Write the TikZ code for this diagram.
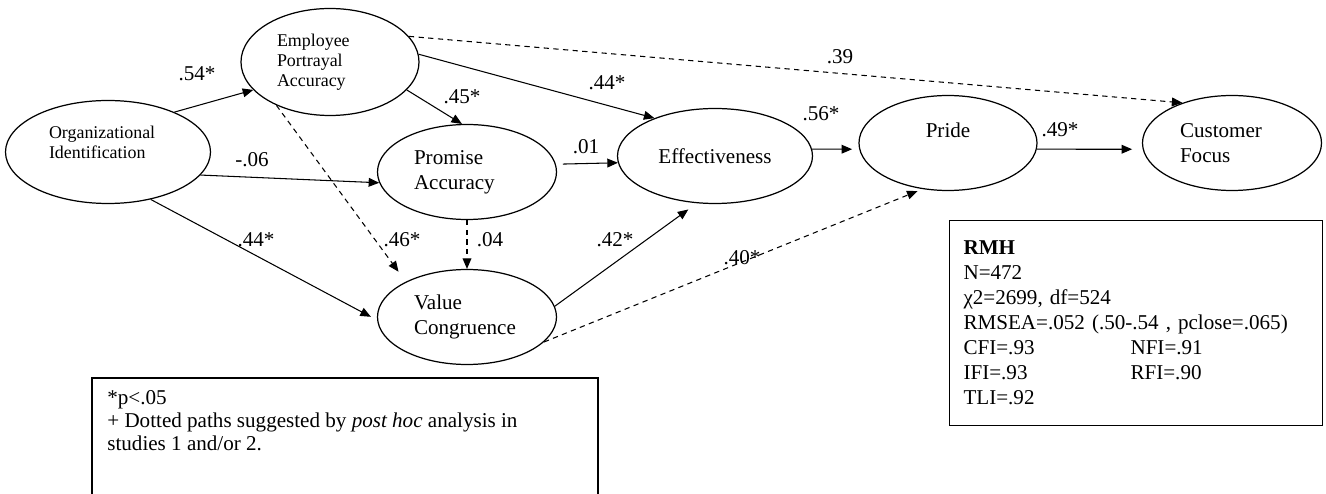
\documentclass[tikz,border=0pt]{standalone}
\usepackage{fontspec}
\setmainfont{Liberation Serif}
\usetikzlibrary{arrows.meta, shapes.geometric}

\begin{document}
\begin{tikzpicture}[
    construct/.style={ellipse, draw=black, line width=0.7pt, inner sep=0pt,
                      minimum width=3.58cm, minimum height=1.9cm,
                      font=\fontsize{12}{14.2}\selectfont},
    smallconstruct/.style={construct, font=\fontsize{10.2}{11.4}\selectfont},
    link/.style={-{Triangle[length=6pt, width=5pt]}, line width=0.6pt},
    posthoc/.style={link, dash pattern=on 3pt off 2.5pt},
    weight/.style={font=\fontsize{12}{14}\selectfont, inner sep=0pt},
    infobox/.style={draw=black, line width=0.6pt, font=\fontsize{12}{14.2}\selectfont}
]
    \useasboundingbox (0,0) rectangle (26.52,-9.88);

    % Constructs
    \node[smallconstruct, minimum width=4.1cm, minimum height=2.06cm, text width=2.36cm, align=left] (org) at (2.16,-3.04) {Organizational\\Identification\\~};
    \node[smallconstruct, minimum width=3.56cm, minimum height=2.14cm, text width=2.12cm, align=left] (epa) at (6.60,-1.24) {Employee\\Portrayal\\Accuracy};
    \node[construct, text width=2.12cm, align=left] (pa) at (9.34,-3.44) {Promise\\Accuracy};
    \node[construct, minimum width=3.9cm] (eff) at (14.30,-3.12) {Effectiveness};
    \node[construct, minimum width=3.56cm, align=center] (pride) at (18.96,-2.86) {Pride\\~};
    \node[construct, text width=2.08cm, align=left] (cf) at (24.64,-2.86) {Customer\\Focus};
    \node[construct, text width=2.12cm, align=left] (vc) at (9.34,-6.34) {Value\\Congruence};

    % Paths
    \draw[link] (org.31) -- (epa.200);
    \draw[link] (org.-14) -- (pa.187);
    \draw[link, shorten >=4pt] (org.-48) -- (vc.182);
    \draw[link] (epa.-20) -- (pa.96);
    \draw[link] (epa.5) -- (eff.148);
    \draw[posthoc] (epa.18) -- (cf.141);
    \draw[posthoc, shorten >=7pt] (epa.219) -- (vc.150);
    \draw[link, shorten <=4pt] (pa.5) -- (eff.184);
    \draw[posthoc] (pa.south) -- (vc.north);
    \draw[link, shorten >=6pt] (vc.7) -- (eff.249);
    \draw[posthoc, shorten >=3pt] (vc.-18) -- (pride.241);
    \draw[link, shorten >=4pt] (eff.4) -- (pride.184);
    \draw[link, shorten >=6pt] (pride.-4) -- (cf.184);

    % Path weights
    \node[weight] (w-org-epa) at (3.94,-1.48) {.54*};
    \node[weight] (w-org-pa) at (5.04,-3.2) {-.06};
    \node[weight] (w-org-vc) at (5.12,-4.8) {.44*};
    \node[weight] (w-epa-pa) at (9.24,-1.94) {.45*};
    \node[weight] (w-epa-eff) at (12.14,-1.66) {.44*};
    \node[weight] (w-epa-cf) at (16.8,-1.14) {.39};
    \node[weight] (w-epa-vc) at (8.04,-4.8) {.46*};
    \node[weight] (w-pa-eff) at (11.72,-2.94) {.01};
    \node[weight] (w-pa-vc) at (9.8,-4.8) {.04};
    \node[weight] (w-vc-eff) at (12.3,-4.8) {.42*};
    \node[weight] (w-vc-pride) at (14.84,-5.16) {.40*};
    \node[weight] (w-eff-pride) at (16.42,-2.28) {.56*};
    \node[weight] (w-pride-cf) at (21.2,-2.6) {.49*};

    % Fit indices
    \node[infobox, anchor=north west, minimum width=7.46cm, minimum height=4.1cm,
          text width=6.9cm, inner xsep=0.28cm, align=left] (rmh) at (18.98,-4.4)
        {\textbf{RMH}\\N=472\\χ2=2699, df=524\\RMSEA=.052 (.50-.54 , pclose=.065)\\
         \makebox[3.34cm][l]{CFI=.93}NFI=.91\\\makebox[3.34cm][l]{IFI=.93}RFI=.90\\TLI=.92};

    % Note
    \draw[line width=0.6pt] (1.84,-9.88) |- (11.96,-7.56) -- (11.96,-9.88);
    \node[anchor=north west, inner sep=0pt, align=left, font=\fontsize{12}{13}\selectfont] (note) at (2.14,-7.8)
        {*p<.05\\+ Dotted paths suggested by \textit{post hoc} analysis in\\studies 1 and/or 2.};

\end{tikzpicture}
\end{document}
